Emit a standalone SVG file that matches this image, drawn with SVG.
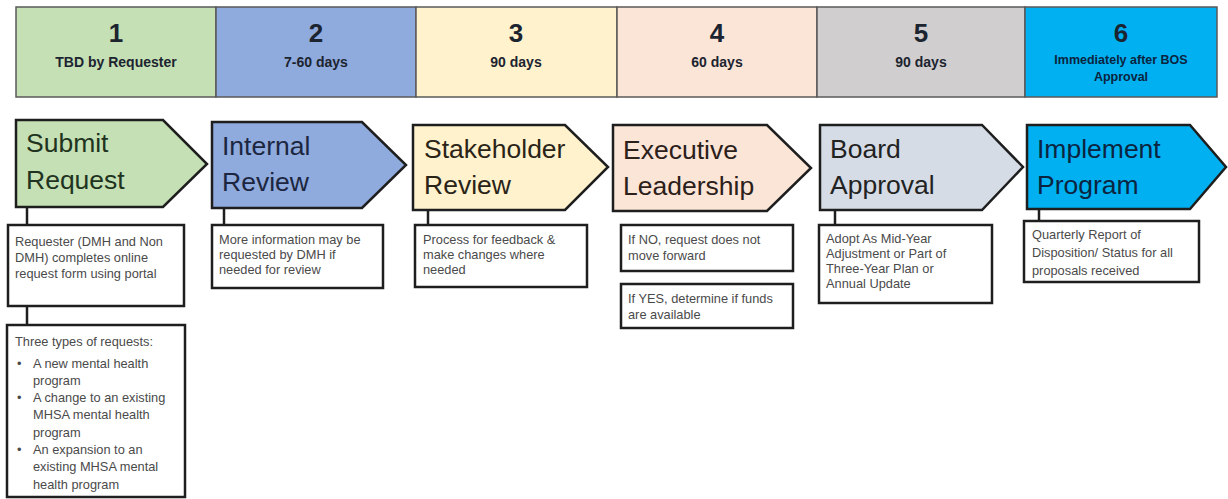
<svg xmlns="http://www.w3.org/2000/svg" width="1228" height="499" viewBox="0 0 1228 499">
<style>
.hdr{stroke:#5a5a5a;stroke-width:1.5}
.num{font-family:"Liberation Sans",Arial,sans-serif;font-weight:bold;font-size:26px;text-anchor:middle;fill:#1c2430}
.sub{font-family:"Liberation Sans",Arial,sans-serif;font-weight:bold;font-size:14px;text-anchor:middle;fill:#1c2430}
.sub6{font-family:"Liberation Sans",Arial,sans-serif;font-weight:bold;font-size:12.5px;text-anchor:middle;fill:#0b2440}
.arrow{stroke:#1e1e1e;stroke-width:2.5;stroke-linejoin:miter}
.big{font-family:"Liberation Sans",Arial,sans-serif;font-size:26.5px}
.box{fill:#fff;stroke:#1e1e1e;stroke-width:2.5}
.txt{font-family:"Liberation Sans",Arial,sans-serif;font-size:12.8px;fill:#4a4a4a}
.conn{stroke:#1e1e1e;stroke-width:2.5;fill:none}
</style>
<rect width="1228" height="499" fill="#fff"/>

<g id="header">
<rect class="hdr" x="16" y="7" width="200" height="90" fill="#c5e0b4"/>
<rect class="hdr" x="216" y="7" width="200" height="90" fill="#8faadc"/>
<rect class="hdr" x="416" y="7" width="201" height="90" fill="#fff2cc"/>
<rect class="hdr" x="617" y="7" width="200" height="90" fill="#fbe5d6"/>
<rect class="hdr" x="817" y="7" width="208" height="90" fill="#d0cece"/>
<rect class="hdr" x="1025" y="7" width="192" height="90" fill="#00b0f0"/>
<text class="num" x="116" y="42">1</text>
<text class="sub" x="116" y="67">TBD by Requester</text>
<text class="num" x="316" y="42">2</text>
<text class="sub" x="316" y="67">7-60 days</text>
<text class="num" x="516" y="42">3</text>
<text class="sub" x="516" y="67">90 days</text>
<text class="num" x="717" y="42">4</text>
<text class="sub" x="717" y="67">60 days</text>
<text class="num" x="921" y="42">5</text>
<text class="sub" x="921" y="67">90 days</text>
<text class="num" x="1121" y="42" fill="#0b2440">6</text>
<text class="sub6" x="1121" y="64">Immediately after BOS</text>
<text class="sub6" x="1121" y="81">Approval</text>
</g>

<g id="connectors">
<line class="conn" x1="27" y1="208" x2="27" y2="225"/>
<line class="conn" x1="27" y1="306" x2="27" y2="325"/>
<line class="conn" x1="224" y1="209" x2="224" y2="225"/>
<line class="conn" x1="428" y1="210" x2="428" y2="225"/>
<line class="conn" x1="835" y1="210" x2="835" y2="225"/>
<line class="conn" x1="1039" y1="210" x2="1039" y2="221"/>
</g>

<g id="submit-request">
<polygon class="arrow" points="16,120 163,120 207,164 163,207 16,207" fill="#c5e0b4"/>
<text class="big" x="26" y="152" fill="#1f3320">Submit</text>
<text class="big" x="26" y="189" fill="#1f3320">Request</text>
</g>
<g id="internal-review">
<polygon class="arrow" points="212,122 362,122 406,165 362,208 212,208" fill="#8faadc"/>
<text class="big" x="222" y="155" fill="#1c2640">Internal</text>
<text class="big" x="222" y="191" fill="#1c2640">Review</text>
</g>
<g id="stakeholder-review">
<polygon class="arrow" points="413,125 565,125 608,167 565,210 413,210" fill="#fff2cc"/>
<text class="big" x="424" y="158" fill="#2a2418">Stakeholder</text>
<text class="big" x="424" y="194" fill="#2a2418">Review</text>
</g>
<g id="executive-leadership">
<polygon class="arrow" points="613,125 767,125 811,168 767,211 613,211" fill="#fbe5d6"/>
<text class="big" x="623" y="159" fill="#2b201a">Executive</text>
<text class="big" x="623" y="195" fill="#2b201a">Leadership</text>
</g>
<g id="board-approval">
<polygon class="arrow" points="820,125 982,125 1023,167 982,210 820,210" fill="#d6dce5"/>
<text class="big" x="830" y="158" fill="#222">Board</text>
<text class="big" x="830" y="194" fill="#222">Approval</text>
</g>
<g id="implement-program">
<polygon class="arrow" points="1027,125 1190,125 1226,167 1190,209 1027,209" fill="#00b0f0"/>
<text class="big" x="1037" y="158" fill="#0b2440">Implement</text>
<text class="big" x="1037" y="194" fill="#0b2440">Program</text>
</g>

<g id="box-submit">
<rect class="box" x="8" y="225" width="176" height="81"/>
<text class="txt" x="15" y="246">Requester (DMH and Non</text>
<text class="txt" x="15" y="262">DMH) completes online</text>
<text class="txt" x="15" y="278">request form using portal</text>
</g>
<g id="box-types">
<rect class="box" x="7" y="325" width="178" height="172"/>
<text class="txt" x="15" y="346">Three types of requests:</text>
<text class="txt" x="17" y="368">•</text>
<text class="txt" x="33" y="368">A new mental health</text>
<text class="txt" x="33" y="385">program</text>
<text class="txt" x="17" y="402">•</text>
<text class="txt" x="33" y="402">A change to an existing</text>
<text class="txt" x="33" y="419">MHSA mental health</text>
<text class="txt" x="33" y="437">program</text>
<text class="txt" x="17" y="454">•</text>
<text class="txt" x="33" y="454">An expansion to an</text>
<text class="txt" x="33" y="471">existing MHSA mental</text>
<text class="txt" x="33" y="489">health program</text>
</g>
<g id="box-internal">
<rect class="box" x="212" y="225" width="171" height="63"/>
<text class="txt" x="219" y="244">More information may be</text>
<text class="txt" x="219" y="259">requested by DMH if</text>
<text class="txt" x="219" y="274">needed for review</text>
</g>
<g id="box-stakeholder">
<rect class="box" x="415" y="225" width="172" height="62"/>
<text class="txt" x="423" y="244">Process for feedback &amp;</text>
<text class="txt" x="423" y="259">make changes where</text>
<text class="txt" x="423" y="274">needed</text>
</g>
<g id="box-exec-no">
<rect class="box" x="621" y="225" width="172" height="46"/>
<text class="txt" x="628" y="244">If NO, request does not</text>
<text class="txt" x="628" y="260">move forward</text>
</g>
<g id="box-exec-yes">
<rect class="box" x="621" y="284" width="172" height="44"/>
<text class="txt" x="628" y="303">If YES, determine if funds</text>
<text class="txt" x="628" y="319">are available</text>
</g>
<g id="box-board">
<rect class="box" x="819" y="225" width="173" height="78"/>
<text class="txt" x="826" y="243">Adopt As Mid-Year</text>
<text class="txt" x="826" y="258">Adjustment or Part of</text>
<text class="txt" x="826" y="273">Three-Year Plan or</text>
<text class="txt" x="826" y="288">Annual Update</text>
</g>
<g id="box-implement">
<rect class="box" x="1024" y="221" width="175" height="61"/>
<text class="txt" x="1032" y="239">Quarterly Report of</text>
<text class="txt" x="1032" y="257">Disposition/ Status for all</text>
<text class="txt" x="1032" y="275">proposals received</text>
</g>
</svg>
